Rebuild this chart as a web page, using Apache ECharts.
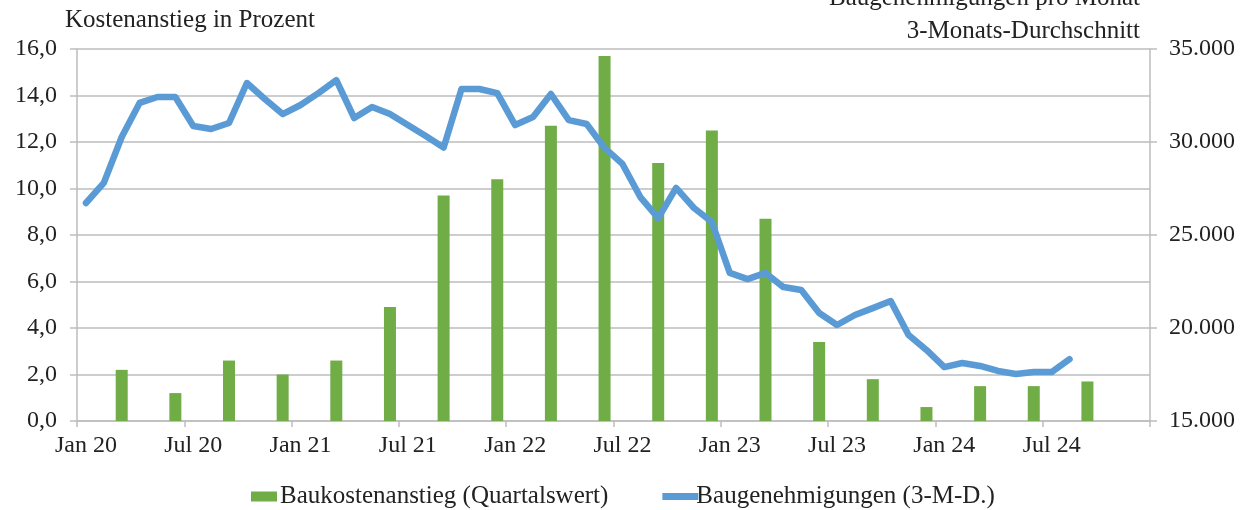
<!DOCTYPE html>
<html>
<head>
<meta charset="utf-8">
<script src="https://cdn.jsdelivr.net/npm/echarts@6/dist/echarts.min.js"></script>
<style>
  html, body { margin: 0; padding: 0; background: #fff; }
  #chart { width: 1252px; height: 510px; }
</style>
</head>
<body>
<div id="chart"></div>
<script>
// Month axis: Jan 2020 .. Dec 2024
const monthNames = ['Jan','Feb','Mar','Apr','May','Jun','Jul','Aug','Sep','Oct','Nov','Dec'];
const years = ['20','21','22','23','24'];

// Construction cost increase per quarter (%), Q1 2020 .. Q3 2024, plotted at the quarter's last month
const quarterlyCostIncrease = [2.2, 1.2, 2.6, 2.0, 2.6, 4.9, 9.7, 10.4, 12.7, 15.7, 11.1, 12.5, 8.7, 3.4, 1.8, 0.6, 1.5, 1.5, 1.7];

// Building permits per month, 3-month average, Jan 2020 .. Aug 2024
const permits3M = [
  26720, 27800, 30270, 32100, 32420, 32420, 30860, 30700, 31020, 33170, 32310, 31500,
  31990, 32630, 33330, 31290, 31880, 31500, 30910, 30320, 29700, 32850, 32850, 32630,
  30910, 31340, 32580, 31180, 30970, 29680, 28820, 27040, 25910, 27530, 26450, 25700,
  22960, 22630, 22960, 22200, 22040, 20810, 20160, 20700, 21070, 21450, 19620, 18820,
  17900, 18120, 17960, 17690, 17530, 17630, 17630, 18330
];

const leftTicks = { min: 0, max: 16, interval: 2 };
const rightTicks = { min: 15000, max: 35000, interval: 5000 };

const seriesNames = ['Baukostenanstieg (Quartalswert)', 'Baugenehmigungen (3-M-D.)'];

const categories = [];
years.forEach(y => monthNames.forEach(m => categories.push(m + ' ' + y)));

const barData = categories.map(() => null);
quarterlyCostIncrease.forEach((v, i) => { barData[3 * i + 2] = v; });

const FONT = '"Liberation Serif", "Times New Roman", serif';
const FS = 24;      // axis labels
const FS_T = 25;    // titles and legend
const TXT = '#222';
const GRID = '#BDBDBD';
const BAR = '#70AD47';
const LINE = '#5B9BD5';

const chart = echarts.init(document.getElementById('chart'), null, { renderer: 'canvas' });
chart.setOption({
  animation: false,
  backgroundColor: '#fff',
  textStyle: { fontFamily: FONT, color: TXT },
  grid: { left: 77, right: 102, top: 49, bottom: 89, containLabel: false },
  legend: {
    top: 479,
    left: 246,
    itemGap: 54,
    itemWidth: 36,
    itemHeight: 10,
    symbolKeepAspect: true,
    textStyle: { fontFamily: FONT, fontSize: FS_T, color: TXT, padding: [0, 0, 0, -7] },
    data: [
      { name: seriesNames[0], icon: 'path://M0 0 H26 V10 H0 Z', itemStyle: { color: BAR } },
      { name: seriesNames[1], icon: 'path://M0 0 H36 V7 H0 Z', itemStyle: { color: LINE } }
    ]
  },
  graphic: [
    { type: 'text', x: 0, y: 0,
      style: { x: 65, y: 20.5, text: 'Kostenanstieg in Prozent', font: FS_T + 'px ' + FONT, fill: TXT,
               align: 'left', verticalAlign: 'middle' } },
    { type: 'text', x: 0, y: 0,
      style: { x: 1140, y: -1.5, text: 'Baugenehmigungen pro Monat', font: FS_T + 'px ' + FONT, fill: TXT,
               align: 'right', verticalAlign: 'middle' } },
    { type: 'text', x: 0, y: 0,
      style: { x: 1140, y: 31.5, text: '3-Monats-Durchschnitt', font: FS_T + 'px ' + FONT, fill: TXT,
               align: 'right', verticalAlign: 'middle' } }
  ],
  xAxis: {
    type: 'category',
    data: categories,
    boundaryGap: true,
    axisLine: { lineStyle: { color: GRID, width: 1.5 } },
    axisTick: { show: true, interval: 5, alignWithLabel: false, length: 6, lineStyle: { color: GRID, width: 1.5 } },
    axisLabel: { interval: 5, margin: 13, fontSize: FS, color: TXT, fontFamily: FONT }
  },
  yAxis: [
    {
      type: 'value',
      min: leftTicks.min, max: leftTicks.max, interval: leftTicks.interval,
      axisLine: { show: true, lineStyle: { color: GRID, width: 1.5 } },
      axisTick: { show: true, length: 7, lineStyle: { color: GRID, width: 1.5 } },
      splitLine: { show: true, lineStyle: { color: GRID, width: 1.5 } },
      axisLabel: { margin: 20, fontSize: FS, color: TXT, fontFamily: FONT,
        formatter: v => v.toFixed(1).replace('.', ',') }
    },
    {
      type: 'value',
      position: 'right',
      min: rightTicks.min, max: rightTicks.max, interval: rightTicks.interval,
      axisLine: { show: true, lineStyle: { color: GRID, width: 1.5 } },
      axisTick: { show: true, length: 7, lineStyle: { color: GRID, width: 1.5 } },
      splitLine: { show: false },
      axisLabel: { margin: 19, fontSize: FS, color: TXT, fontFamily: FONT,
        formatter: v => String(v).replace(/\B(?=(\d{3})+(?!\d))/g, '.') }
    }
  ],
  series: [
    {
      name: seriesNames[0],
      type: 'bar',
      yAxisIndex: 0,
      data: barData,
      barWidth: 12,
      itemStyle: { color: BAR }
    },
    {
      name: seriesNames[1],
      type: 'line',
      yAxisIndex: 1,
      data: permits3M,
      symbol: 'none',
      smooth: false,
      lineStyle: { color: LINE, width: 6.5, join: 'round', cap: 'round' },
      itemStyle: { color: LINE }
    }
  ]
});
</script>
</body>
</html>
